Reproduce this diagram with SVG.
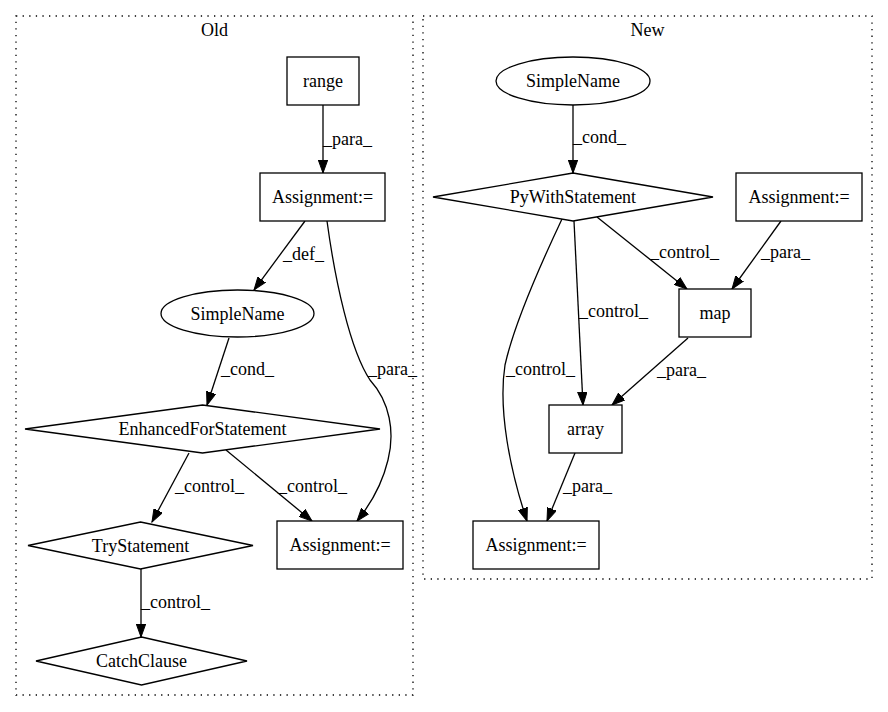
<svg xmlns="http://www.w3.org/2000/svg" width="888" height="712" viewBox="0 0 888 712">
<style>
.t{font-family:"Liberation Serif","Times New Roman",serif;font-size:18px;fill:#000}
.n{text-anchor:middle}
.s{fill:#fff;stroke:#000;stroke-width:1.3}
.c{fill:none;stroke:#000;stroke-width:1.3;stroke-dasharray:1.3,5.3}
.e{fill:none;stroke:#000;stroke-width:1.3;marker-end:url(#a)}
</style>
<defs>
<marker id="a" markerUnits="userSpaceOnUse" markerWidth="14" markerHeight="10" refX="13" refY="5" orient="auto">
<path d="M0,0.3 L13,5 L0,9.7 z" fill="#000" stroke="#000" stroke-width="1"/>
</marker>
</defs>
<rect width="888" height="712" fill="#fff"/>
<g class="t" font-family="Liberation Serif, Times New Roman, serif" font-size="18">
<g id="cluster_old">
<rect class="c" x="16" y="16" width="397" height="679"/>
<text class="n" text-anchor="middle" x="214.5" y="36">Old</text>
</g>
<g id="cluster_new">
<rect class="c" x="423" y="16" width="449" height="563"/>
<text class="n" text-anchor="middle" x="647.5" y="36">New</text>
</g>
<g id="connectors">
<path class="e" d="M323,105 L323,173"/>
<text x="323" y="145">_para_</text>
<path class="e" d="M305,221 L254,290"/>
<text x="283" y="260">_def_</text>
<path class="e" d="M327,221 C335,280 350,350 370,380 C390,402 395,432 388,460 C382,485 370,505 357,521"/>
<text x="368" y="375">_para_</text>
<path class="e" d="M229,338 L207,405"/>
<text x="221" y="375">_cond_</text>
<path class="e" d="M189,453 L152,522"/>
<text x="175" y="492">_control_</text>
<path class="e" d="M226,450 L312,521"/>
<text x="278" y="492">_control_</text>
<path class="e" d="M141,569 L141,637"/>
<text x="141" y="608">_control_</text>
<path class="e" d="M573,105 L573,173"/>
<text x="573" y="143">_cond_</text>
<path class="e" d="M597,217 L687,289"/>
<text x="650" y="258">_control_</text>
<path class="e" d="M781,221 L732,289"/>
<text x="761" y="258">_para_</text>
<path class="e" d="M574,221 L583,405"/>
<text x="579" y="317">_control_</text>
<path class="e" d="M688,338 L612,405"/>
<text x="657" y="376">_para_</text>
<path class="e" d="M562,219 C545,255 515,320 505,365 C498,410 510,470 527,521"/>
<text x="506" y="375">_control_</text>
<path class="e" d="M575,453 L547,521"/>
<text x="563" y="492">_para_</text>
</g>
<g id="old_range">
<rect class="s" x="287" y="57" width="72" height="48"/>
<text class="n" text-anchor="middle" x="323" y="87">range</text>
</g>
<g id="old_assign1">
<rect class="s" x="260" y="173" width="125" height="48"/>
<text class="n" text-anchor="middle" x="322.5" y="203">Assignment:=</text>
</g>
<g id="old_simplename">
<ellipse class="s" cx="237.5" cy="313.5" rx="76.5" ry="23.5"/>
<text class="n" text-anchor="middle" x="237.5" y="319.5">SimpleName</text>
</g>
<g id="old_enhancedfor">
<polygon class="s" points="202.5,405 380,429 202.5,453 25,429"/>
<text class="n" text-anchor="middle" x="202.5" y="435">EnhancedForStatement</text>
</g>
<g id="old_try">
<polygon class="s" points="140.5,522 253,545.5 140.5,569 28,545.5"/>
<text class="n" text-anchor="middle" x="140.5" y="551.5">TryStatement</text>
</g>
<g id="old_assign2">
<rect class="s" x="277" y="521" width="126" height="48"/>
<text class="n" text-anchor="middle" x="340" y="551">Assignment:=</text>
</g>
<g id="old_catch">
<polygon class="s" points="141.5,637 247,661 141.5,685 36,661"/>
<text class="n" text-anchor="middle" x="141.5" y="667">CatchClause</text>
</g>
<g id="new_simplename">
<ellipse class="s" cx="573" cy="81" rx="77" ry="24"/>
<text class="n" text-anchor="middle" x="573" y="87">SimpleName</text>
</g>
<g id="new_pywith">
<polygon class="s" points="573,173 713,197 573,221 433,197"/>
<text class="n" text-anchor="middle" x="573" y="203">PyWithStatement</text>
</g>
<g id="new_assign1">
<rect class="s" x="736" y="173" width="126" height="48"/>
<text class="n" text-anchor="middle" x="799" y="203">Assignment:=</text>
</g>
<g id="new_map">
<rect class="s" x="679" y="289" width="72" height="48"/>
<text class="n" text-anchor="middle" x="715" y="319">map</text>
</g>
<g id="new_array">
<rect class="s" x="549" y="405" width="73" height="48"/>
<text class="n" text-anchor="middle" x="585.5" y="435">array</text>
</g>
<g id="new_assign2">
<rect class="s" x="473" y="521" width="126" height="48"/>
<text class="n" text-anchor="middle" x="536" y="551">Assignment:=</text>
</g>
</g>
</svg>
